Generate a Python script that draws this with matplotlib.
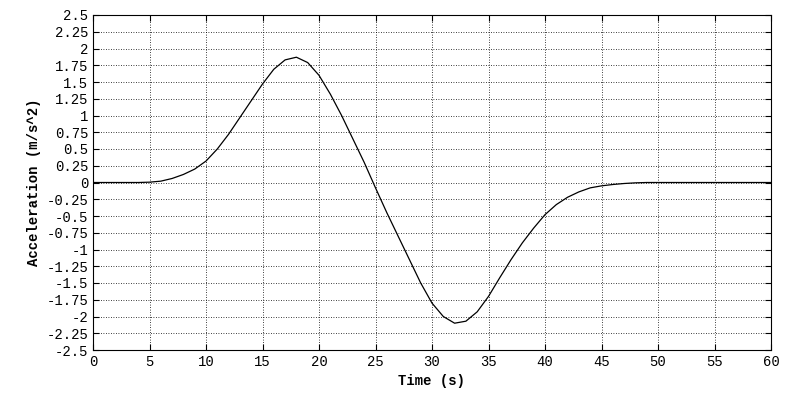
import matplotlib
matplotlib.use("Agg")
import matplotlib.pyplot as plt
import numpy as np

time_s = list(range(0, 61))
accel = [0, 0, 0, 0, 0, 0.005, 0.02, 0.06, 0.12, 0.2, 0.32, 0.5, 0.72, 0.97, 1.22, 1.47, 1.69, 1.83, 1.87, 1.79, 1.6, 1.32, 1.0, 0.65, 0.3,
         -0.08, -0.45, -0.8, -1.15, -1.5, -1.8, -2.0, -2.1, -2.07, -1.93, -1.7, -1.42, -1.15, -0.9, -0.68, -0.48, -0.33, -0.22, -0.14,
         -0.08, -0.05, -0.03, -0.015, -0.005, 0, 0, 0, 0, 0, 0, 0, 0, 0, 0, 0, 0]
xticks = list(range(0, 61, 5))
yticks = [round(v, 2) for v in np.arange(-2.5, 2.51, 0.25)]

plt.rcParams['font.family'] = ['Liberation Mono', 'DejaVu Sans Mono']
fig = plt.figure(figsize=(8, 4), dpi=100)
ax = fig.add_axes([93/800, 1-350/400, (771-93)/800, (350-15)/400])
ax.plot(time_s, accel, color='black', lw=0.9)
ax.set_xlim(0, 60)
ax.set_ylim(-2.5, 2.5)
ax.set_xticks(xticks)
ax.set_xticklabels([f"{v:g}" for v in xticks])
ax.set_yticks(yticks)
ax.set_yticklabels([f"{v:g}" for v in yticks])
ax.grid(True, color='black', linestyle=(0, (1, 2)), linewidth=0.6)
ax.tick_params(direction='in', labelsize=10, top=True, right=True, length=4)
for s in ax.spines.values():
    s.set_linewidth(0.8)
ax.set_xlabel("Time (s)", fontsize=10, fontweight='bold')
ax.set_ylabel("Acceleration (m/s^2)", fontsize=10, fontweight='bold')
fig.savefig("out.png", dpi=100)
